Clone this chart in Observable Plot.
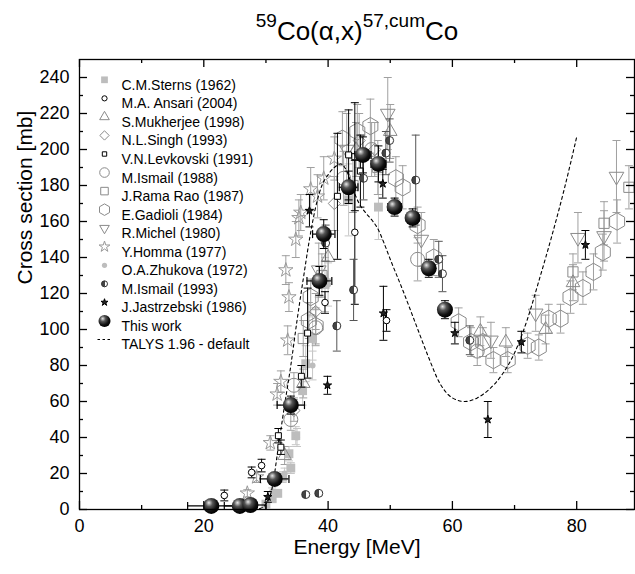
<!DOCTYPE html>
<html><head><meta charset="utf-8">
<script src="https://cdn.jsdelivr.net/npm/d3@7"></script>
<script src="https://cdn.jsdelivr.net/npm/@observablehq/plot@0.6"></script>
<style>
body{margin:0;background:#fff;font-family:"Liberation Sans",Arial,sans-serif;}
#title{height:50px;width:635px;box-sizing:border-box;padding-left:79px;padding-top:16px;text-align:center;font-size:26px;line-height:30px;white-space:nowrap;}
#title sup{font-size:19px;vertical-align:baseline;position:relative;top:-13px;}
#chart svg{display:block;}
</style></head><body>
<div id="title"><sup>59</sup>Co(α,x)<sup>57,cum</sup>Co</div>
<div id="chart"></div>
<script>
// ---------------- data ----------------
const seriesNames = ["C.M.Sterns (1962)", "M.A. Ansari (2004)", "S.Mukherjee (1998)", "N.L.Singh (1993)",
  "V.N.Levkovski (1991)", "M.Ismail (1988)", "J.Rama Rao (1987)", "E.Gadioli (1984)", "R.Michel (1980)",
  "Y.Homma (1977)", "O.A.Zhukova (1972)", "M.Ismail (1993)", "J.Jastrzebski (1986)", "This work", "TALYS 1.96 - default"];

const sternsE = [30.0, 31.0, 31.9, 32.7, 33.7, 34.0, 34.8, 35.9, 36.4, 37.5, 39.5, 43.3, 48.1];
const sternsS = [3, 6, 9, 18, 31, 23, 41, 66, 81, 95, 125, 172, 168];
const sternsErr = [1, 1.5, 2, 3, 4, 3, 5, 8, 10, 12, 15, 20, 18];

const ansariE = [23.3, 27.7, 29.3, 39.5, 44.3, 49.4];
const ansariS = [7.8, 20.6, 24.4, 115, 154, 105];
const ansariErr = [3, 3, 3.5, 6, 40, 6];

const mukherjeeE = [33.0, 36.0, 40.0, 44.5, 50.0, 64.5, 68.6, 75.0, 79.4];
const mukherjeeS = [30, 70, 140, 200, 210, 99, 93, 100, 126];
const mukherjeeErr = [5, 8, 12, 15, 15, 8, 8, 8, 10];

const singhE = [34.5, 38.0, 41.0, 45.0, 47.5];
const singhS = [55, 110, 170, 205, 200];
const singhErr = [6, 10, 15, 15, 15];

const levkovskiE = [32.0, 32.4, 35.7, 36.7, 41.5, 43.3, 44.3, 45.2];
const levkovskiS = [41, 34.6, 74, 98, 174, 197, 196, 188];
const levkovskiErr = [4, 4, 6, 25, 35, 25, 30, 20];

const ismail88E = [34.0, 34.5, 38.0, 42.5, 47.0, 54.4, 64.0];
const ismail88S = [50, 69, 101, 184, 200, 139, 88];
const ismail88Err = [6, 7, 10, 15, 15, 12, 8];

const ramaRaoE = [36.0, 39.0, 44.0, 48.0, 79.4, 84.4, 88.4];
const ramaRaoS = [95, 130, 180, 190, 132, 159, 179];
const ramaRaoErr = [10, 12, 15, 15, 10, 12, 12];

const gadioliE = [36.9, 37.2, 38.0, 42.3, 44.7, 46.8, 50.9, 52.0, 54.4, 57.0, 61.0, 63.0, 64.9, 66.6, 68.9, 72.1, 73.9, 75.5, 77.4, 79.0, 81.0, 82.7, 84.2, 86.5];
const gadioliS = [105, 118, 102, 206, 210, 213, 184, 179, 158, 140, 104, 93, 93, 83, 83, 91, 90, 106, 106, 118, 123, 132, 143, 160];
const gadioliErr = [10, 10, 10, 15, 15, 15, 12, 12, 10, 10, 8, 8, 8, 7, 7, 7, 7, 8, 8, 9, 9, 10, 10, 12];

const michelE = [38.5, 43.0, 49.6, 55.0, 66.2, 73.4, 80.2, 84.4, 86.4];
const michelS = [133, 200, 220, 150, 94, 109, 151, 152, 185];
const michelErr = [15, 20, 20, 15, 10, 10, 14, 14, 20];

const hommaE = [27.0, 28.5, 30.7, 31.8, 32.4, 33.2, 33.5, 33.7, 34.8, 35.3, 35.6, 37.2, 38.3, 39.3, 41.0];
const hommaS = [9, 18, 37, 64, 71, 133, 94, 118, 150, 162, 165, 178, 174, 184, 195];
const hommaErr = [2, 3, 4, 6, 6, 8, 8, 8, 10, 10, 10, 12, 12, 12, 12];

const zhukovaE = [31.0, 33.0, 35.0, 37.5, 40.0];
const zhukovaS = [10, 20, 40, 80, 125];
const zhukovaErr = [2, 3, 5, 8, 12];

const ismail93E = [36.4, 38.5, 39.6, 41.4, 44.1, 45.7, 49.3, 49.9, 54.1, 57.8, 58.4, 62.8];
const ismail93S = [8.3, 9, 148, 102, 122, 184, 198, 205, 183, 139, 131, 94];
const ismail93Err = [1, 1, 10, 14, 17, 12, 12, 12, 25, 10, 10, 8];

const jastrzE = [30.3, 37.0, 39.9, 48.8, 48.9, 60.4, 65.7, 71.1, 81.4];
const jastrzS = [7, 166, 69, 181, 109, 98, 50, 93, 147];
const jastrzErr = [3, 9, 5, 8, 15, 6, 10, 6, 8];

const thisWorkE = [21.2, 25.8, 27.5, 31.4, 34.0, 38.6, 39.3, 43.3, 45.6, 48.1, 50.7, 53.6, 56.2, 58.8];
const thisWorkS = [2, 2, 2.5, 17, 58, 127, 153, 179, 197, 192, 168, 162, 134, 111];
const thisWorkErrS = [1.5, 1.5, 1.5, 3, 5, 8, 8, 9, 10, 10, 5, 5, 5, 5];
const thisWorkErrE = [3.8, 2.5, 2.5, 2.3, 2.2, 2.0, 1.8, 1.5, 1.3, 1.2, 1.1, 1.0, 1.0, 1.0];

const talysE = [28, 29, 30, 31, 32, 33, 34, 35, 36, 37, 38, 39, 40, 41, 42, 43, 44, 45, 46, 47, 48, 49, 50, 52, 54, 56, 58, 60, 62, 64, 66, 68, 70, 72, 74, 76, 78, 80];
const talysS = [0, 0.5, 3, 12, 35, 58, 80, 105, 128, 150, 168, 180, 186, 190, 192, 188, 178, 170, 165, 161, 156, 148, 139, 122, 104, 86, 70, 62, 60, 62, 67, 75, 87, 105, 128, 152, 178, 207];

const xTicks = [0, 20, 40, 60, 80];
const xMinorTicks = [10, 30, 50, 70];
const yTicks = [0, 20, 40, 60, 80, 100, 120, 140, 160, 180, 200, 220, 240];
const yMinorTicks = [10, 30, 50, 70, 90, 110, 130, 150, 170, 190, 210, 230];

// ---------------- styles ----------------
const FONT = '"Liberation Sans", Arial, Helvetica, sans-serif';
const GREY = "#8a8a8a", GREYERR = "#a0a0a0";
const series = [
  {E: sternsE, S: sternsS, err: sternsErr, symbol: "square", r: 5, lr: 3.8, fill: "#bdbdbd", stroke: "none", errColor: "#c6c6c6"},
  {E: ansariE, S: ansariS, err: ansariErr, symbol: "circle", r: 3.3, lr: 2.6, fill: "white", stroke: "black", errColor: "black"},
  {E: mukherjeeE, S: mukherjeeS, err: mukherjeeErr, symbol: "triangle2", r: 6.5, lr: 4.6, fill: "none", stroke: GREY, errColor: GREYERR},
  {E: singhE, S: singhS, err: singhErr, symbol: "diamond2", r: 5.5, lr: 4.2, fill: "none", stroke: GREY, errColor: GREYERR},
  {E: levkovskiE, S: levkovskiS, err: levkovskiErr, symbol: "square2", r: 3.8, lr: 2.8, fill: "white", stroke: "black", errColor: "black"},
  {E: ismail88E, S: ismail88S, err: ismail88Err, symbol: "circle", r: 7, lr: 4.8, fill: "none", stroke: GREY, errColor: GREYERR},
  {E: ramaRaoE, S: ramaRaoS, err: ramaRaoErr, symbol: "square2", r: 6.5, lr: 4.8, fill: "none", stroke: GREY, errColor: GREYERR},
  {E: gadioliE, S: gadioliS, err: gadioliErr, symbol: "hexagon", r: 7.5, lr: 5, fill: "none", stroke: GREY, errColor: GREYERR},
  {E: michelE, S: michelS, err: michelErr, symbol: "triangle2", rotate: 180, r: 7, lr: 4.6, fill: "none", stroke: GREY, errColor: GREYERR},
  {E: hommaE, S: hommaS, err: hommaErr, symbol: "star", r: 4.5, lr: 3.4, fill: "none", stroke: "#999", errColor: GREYERR},
  {E: zhukovaE, S: zhukovaS, err: zhukovaErr, symbol: "circle", r: 3, lr: 2.6, fill: "#bdbdbd", stroke: "none", errColor: "#c6c6c6"},
  {E: ismail93E, S: ismail93S, err: ismail93Err, symbol: "circle", r: 4, lr: 3, fill: "url(#halfFill)", stroke: "#333", errColor: "#555"},
  {E: jastrzE, S: jastrzS, err: jastrzErr, symbol: "star", r: 2.6, lr: 2.2, fill: "#222", stroke: "black", errColor: "black"},
  {E: thisWorkE, S: thisWorkS, err: thisWorkErrS, errE: thisWorkErrE, symbol: "circle", r: 8, lr: 6, fill: "url(#sphere)", stroke: "none", errColor: "black"}
];

const W = 635, H = 524, mL = 79, mR = 1, mT = 9, mB = 65;
const fw = W - mL - mR, fh = H - mT - mB;

const capH = {draw(ctx, size) { const w = Math.sqrt(size / Math.PI); ctx.moveTo(-w, 0); ctx.lineTo(w, 0); }};
const capV = {draw(ctx, size) { const w = Math.sqrt(size / Math.PI); ctx.moveTo(0, -w); ctx.lineTo(0, w); }};
const dashSym = {draw(ctx, size) { const w = Math.sqrt(size / Math.PI); ctx.moveTo(-w, 0); ctx.lineTo(w, 0); }};

function errorMarks(s) {
  const idx = d3.range(s.E.length);
  const lo = i => Math.max(0, s.S[i] - s.err[i]);
  const hi = i => s.S[i] + s.err[i];
  const out = [
    Plot.ruleX(idx, {x: i => s.E[i], y1: lo, y2: hi, stroke: s.errColor, strokeWidth: 1}),
    Plot.dot(idx, {x: i => s.E[i], y: hi, symbol: capH, r: 4, stroke: s.errColor, strokeWidth: 1}),
    Plot.dot(idx.filter(i => s.S[i] - s.err[i] > 0), {x: i => s.E[i], y: lo, symbol: capH, r: 4, stroke: s.errColor, strokeWidth: 1})
  ];
  if (s.errE) {
    out.push(Plot.ruleY(idx, {y: i => s.S[i], x1: i => s.E[i] - s.errE[i], x2: i => s.E[i] + s.errE[i], stroke: "black", strokeWidth: 1.2}));
    out.push(Plot.dot(idx, {x: i => s.E[i] - s.errE[i], y: i => s.S[i], symbol: capV, r: 4, stroke: "black", strokeWidth: 1.2}));
    out.push(Plot.dot(idx, {x: i => s.E[i] + s.errE[i], y: i => s.S[i], symbol: capV, r: 4, stroke: "black", strokeWidth: 1.2}));
  }
  return out;
}
function pointMark(s) {
  const idx = d3.range(s.E.length);
  return Plot.dot(idx, {x: i => s.E[i], y: i => s.S[i], symbol: s.symbol, r: s.r, fill: s.fill, stroke: s.stroke,
    strokeWidth: 1, rotate: s.rotate || 0});
}

const greyOrder = [0, 10, 2, 3, 5, 6, 7, 8, 9];
const blackOrder = [1, 4, 11, 12];
const marks = [];
for (const k of greyOrder) marks.push(...errorMarks(series[k]));
for (const k of greyOrder) marks.push(pointMark(series[k]));
const tIdx = d3.range(talysE.length);
marks.push(Plot.line(tIdx, {x: i => talysE[i], y: i => talysS[i], stroke: "black", strokeWidth: 1.1, strokeDasharray: "3,3", curve: "monotone-x"}));
for (const k of blackOrder) marks.push(...errorMarks(series[k]));
for (const k of blackOrder) marks.push(pointMark(series[k]));
marks.push(...errorMarks(series[13]));
marks.push(pointMark(series[13]));

// frame & inward ticks on all sides
marks.push(Plot.frame({stroke: "black", strokeWidth: 1.3}));
marks.push(Plot.tickY(yTicks, {y: d => d, insetRight: fw - 8, stroke: "black", strokeWidth: 1.3}));
marks.push(Plot.tickY(yMinorTicks, {y: d => d, insetRight: fw - 4, stroke: "black", strokeWidth: 1.3}));
marks.push(Plot.tickY(yTicks, {y: d => d, insetLeft: fw - 8, stroke: "black", strokeWidth: 1.3}));
marks.push(Plot.tickY(yMinorTicks, {y: d => d, insetLeft: fw - 4, stroke: "black", strokeWidth: 1.3}));
marks.push(Plot.tickX(xTicks, {x: d => d, insetTop: fh - 8, stroke: "black", strokeWidth: 1.3}));
marks.push(Plot.tickX(xMinorTicks, {x: d => d, insetTop: fh - 4, stroke: "black", strokeWidth: 1.3}));
marks.push(Plot.tickX(xTicks, {x: d => d, insetBottom: fh - 8, stroke: "black", strokeWidth: 1.3}));
marks.push(Plot.tickX(xMinorTicks, {x: d => d, insetBottom: fh - 4, stroke: "black", strokeWidth: 1.3}));

// tick labels and axis titles
marks.push(Plot.text(yTicks, {y: d => d, text: d => String(d), frameAnchor: "left", dx: -10, textAnchor: "end", fontSize: 18, fill: "black"}));
marks.push(Plot.text(xTicks, {x: d => d, text: d => String(d), frameAnchor: "bottom", dy: 10, lineAnchor: "top", fontSize: 18, fill: "black"}));
marks.push(Plot.text(["Energy [MeV]"], {text: d => d, frameAnchor: "bottom", dy: 44, fontSize: 21, fill: "black"}));
marks.push(Plot.text(["Cross section [mb]"], {text: d => d, frameAnchor: "left", dx: -54, rotate: -90, fontSize: 21, fill: "black"}));

// legend inside the frame
seriesNames.forEach((name, i) => {
  const dy = 20.3 + 18.55 * i;
  if (i < series.length) {
    const s = series[i];
    marks.push(Plot.dot([name], {frameAnchor: "top-left", dx: 25, dy, symbol: s.symbol, r: s.lr, fill: s.fill, stroke: s.stroke, strokeWidth: 1, rotate: s.rotate || 0}));
  } else {
    marks.push(Plot.dot([name], {frameAnchor: "top-left", dx: 25, dy, symbol: dashSym, r: 7, stroke: "black", strokeWidth: 1.1, strokeDasharray: "2.5,2.5"}));
  }
  marks.push(Plot.text([name], {text: d => d, frameAnchor: "top-left", dx: 42, dy, textAnchor: "start", fontSize: 14, fill: "black"}));
});

const svg = Plot.plot({
  width: W, height: H, marginLeft: mL, marginRight: mR, marginTop: mT, marginBottom: mB,
  x: {domain: [0, 89.3], axis: null},
  y: {domain: [0, 250], axis: null},
  style: {fontFamily: FONT, fontSize: "18px", color: "black", background: "white", overflow: "visible"},
  marks
});

const defs = d3.select(svg).insert("defs", ":first-child");
const rg = defs.append("radialGradient").attr("id", "sphere").attr("cx", "38%").attr("cy", "35%").attr("r", "65%").attr("fx", "35%").attr("fy", "30%");
rg.append("stop").attr("offset", "0%").attr("stop-color", "#e8e8e8");
rg.append("stop").attr("offset", "35%").attr("stop-color", "#555");
rg.append("stop").attr("offset", "75%").attr("stop-color", "#111");
rg.append("stop").attr("offset", "100%").attr("stop-color", "#000");
const lg = defs.append("linearGradient").attr("id", "halfFill").attr("x1", "0").attr("x2", "1").attr("y1", "0").attr("y2", "0");
lg.append("stop").attr("offset", "50%").attr("stop-color", "#444");
lg.append("stop").attr("offset", "50%").attr("stop-color", "#fff");

document.getElementById("chart").appendChild(svg);
</script>
</body></html>
